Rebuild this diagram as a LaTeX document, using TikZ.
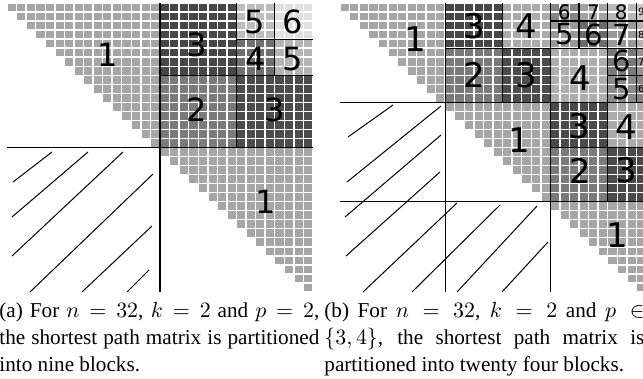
\documentclass[tikz,border=0pt]{standalone}
\usepackage{fontspec}
\setmainfont{Liberation Serif}
\newfontfamily\digitfont{DejaVu Sans}
\definecolor{lite}{gray}{0.65}
\begin{document}
\begin{tikzpicture}[x=0.5pt,y=-0.5pt,
  cellgrid/.style={white,line width=0.7pt},
  part/.style={line width=0.6pt},
  hatch/.style={line width=0.5pt},
  lbl/.style={font=\digitfont\fontsize{16}{16}\selectfont,inner sep=0pt},
  lblmid/.style={font=\digitfont\fontsize{14.5}{14.5}\selectfont,inner sep=0pt},
  lblbig/.style={font=\digitfont\fontsize{17}{17}\selectfont,inner sep=0pt},
  lblsmall/.style={font=\digitfont\fontsize{10}{10}\selectfont,inner sep=0pt},
  lbltiny/.style={font=\digitfont\fontsize{5}{5}\selectfont,inner sep=0pt},
  captext/.style={anchor=base west,text width=160pt,align=justify,inner sep=0pt,font=\fontsize{10.6}{13.5}\selectfont}]
\useasboundingbox (0,0) rectangle (643,379);

% (a) two halves, upper right block split again
\begin{scope}[shift={(7,3)},x=4.78125pt,y=-4.515pt]
\foreach \r in {0,...,15} \fill[lite] (\r,\r) rectangle (16,\r+1);
\foreach \r in {16,...,31} \fill[lite] (\r,\r) rectangle (32,\r+1);
\foreach \ca/\ra/\cb/\rb/\g in {16/0/24/8/28,24/0/28/4/74,28/0/32/4/88,24/4/28/8/44,28/4/32/8/71,16/8/24/16/48,24/8/32/16/30}
  \fill[white!\g!black] (\ca,\ra) rectangle (\cb,\rb);
\foreach \k in {0,...,32} \draw[cellgrid] (\k,0) -- (\k,32) (0,\k) -- (32,\k);
\draw[part] (0,16) -- (32,16) (16,0) -- (16,32) (16,8) -- (32,8) (24,0) -- (24,16) (24,4) -- (32,4) (28,0) -- (28,8);
\node[lbl] (a1) at (10.56,5.76) {1};
\node[lbl] (a3) at (19.87,4.65) {3};
\node[lbl] (a5) at (25.9,2.1) {5};
\node[lbl] (a6) at (29.9,2.1) {6};
\node[lbl] (a4) at (26,6.2) {4};
\node[lbl] (a5b) at (29.9,6.2) {5};
\node[lbl] (a2) at (19.8,11.85) {2};
\node[lbl] (a3b) at (28,11.85) {3};
\node[lbl] (a1b) at (27,22) {1};
\end{scope}
\draw[hatch] (13,182) -- (52,152) (12,217) -- (88,152) (12,256) -- (123,152) (30,292) -- (153,174) (82,292) -- (152,226) (127,292) -- (149,270);

% (b) three parts, blocks split further
\begin{scope}[shift={(340,3)},x=4.78125pt,y=-4.515pt]
\foreach \a/\b in {0/11,11/22,22/32}{
  \pgfmathtruncatemacro\e{\b-1}
  \foreach \r in {\a,...,\e} \fill[lite] (\r,\r) rectangle (\b,\r+1);
}
\foreach \ca/\ra/\cb/\rb/\g in {11/0/17/5/28,17/0/22/5/67,11/5/17/11/48,17/5/22/11/30,
  22/0/25/2/52,25/0/28/2/64,28/0/31/2/72,31/0/32/2/78,
  22/2/25/5/60,25/2/28/5/42,28/2/31/5/60,31/2/32/5/70,
  22/5/28/11/68,28/5/31/8/48,31/5/32/8/58,28/8/31/11/54,31/8/32/11/52,
  22/11/28/16/29,28/11/32/16/67,22/16/28/22/48,28/16/32/22/29}
  \fill[white!\g!black] (\ca,\ra) rectangle (\cb,\rb);
\foreach \k in {0,...,32} \draw[cellgrid] (\k,0) -- (\k,32) (0,\k) -- (32,\k);
\draw[part] (0,11) -- (32,11) (0,22) -- (32,22) (11,0) -- (11,32) (22,0) -- (22,32)
  (11,5) -- (22,5) (17,0) -- (17,11) (22,5) -- (32,5) (28,0) -- (28,11) (22,2) -- (32,2)
  (25,0) -- (25,5) (31,0) -- (31,11) (28,8) -- (32,8) (22,16) -- (32,16) (28,11) -- (28,22);
\node[lblbig] (b1) at (7.84,4) {1};
\node[lblbig] (b3) at (14,2.55) {3};
\node[lblbig] (b4) at (19.45,2.6) {4};
\node[lblbig] (b2) at (14,8) {2};
\node[lblbig] (b3b) at (19.45,8) {3};
\node[lblsmall] (s6) at (23.45,1) {6};
\node[lblsmall] (s7) at (26.5,1) {7};
\node[lblsmall] (s8) at (29.4,1) {8};
\node[lbltiny] (t9) at (31.5,1) {9};
\node[lblmid] (m5) at (23.5,3.5) {5};
\node[lblmid] (m6) at (26.5,3.5) {6};
\node[lblmid] (m7) at (29.45,3.5) {7};
\node[lbltiny] (t8) at (31.5,3.5) {8};
\node[lblbig] (b4b) at (25.1,8.3) {4};
\node[lblmid] (m6b) at (29.5,6.45) {6};
\node[lbltiny] (t7) at (31.5,6.5) {7};
\node[lblmid] (m5b) at (29.5,9.55) {5};
\node[lbltiny] (t6) at (31.5,9.5) {6};
\node[lblbig] (b1b) at (18.8,15.2) {1};
\node[lblbig] (b3c) at (25,13.6) {3};
\node[lblbig] (b4c) at (29.9,13.7) {4};
\node[lblbig] (b2b) at (25.1,18.6) {2};
\node[lblbig] (b3d) at (29.9,18.5) {3};
\node[lblbig] (b1c) at (28.97,25.7) {1};
\end{scope}
\draw[hatch] (348,137) -- (393,105) (347,182) -- (441,106) (345,217) -- (441,135) (346,256) -- (440,172)
  (363,292) -- (457,203) (412,292) -- (500,205) (457,292) -- (537,206) (502,292) -- (548,242);

\node[captext] (capa) at (-1,318) {(a) For $n=32$, $k=2$ and $p=2$,\linebreak the shortest path matrix is partitioned\linebreak into nine blocks.};
\node[captext] (capb) at (324,318) {(b) For $n=32$, $k=2$ and $p\in$\linebreak $\{3,4\}$, the shortest path matrix is\linebreak partitioned into twenty four blocks.};
\end{tikzpicture}
\end{document}
